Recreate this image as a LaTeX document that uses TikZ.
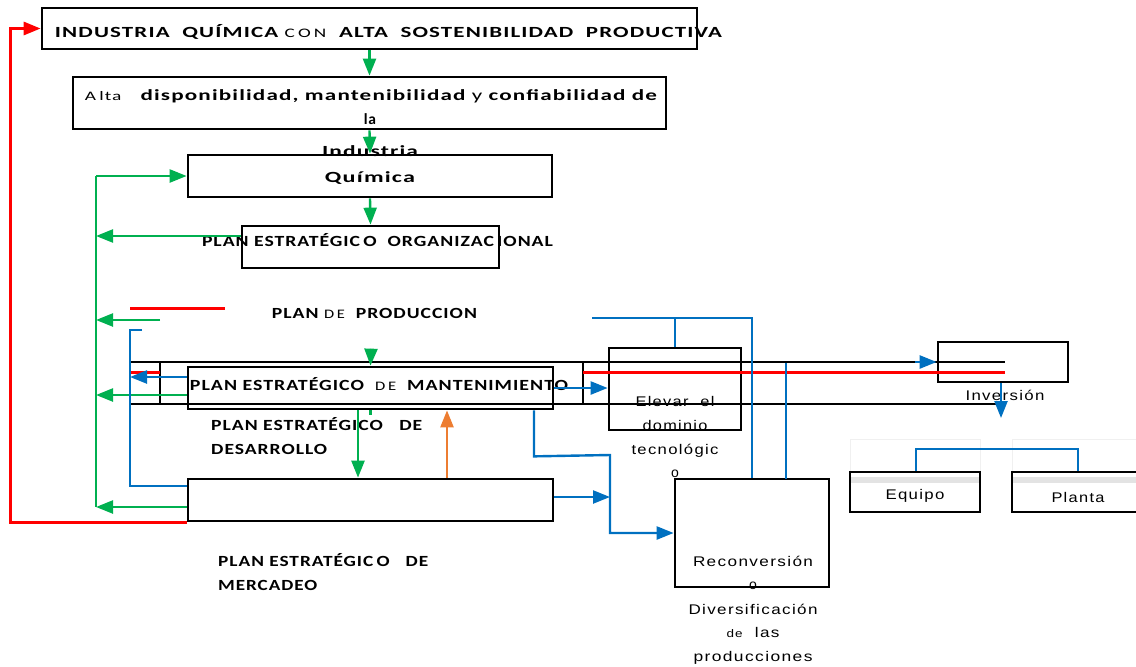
\documentclass[tikz,border=0pt]{standalone}
\usepackage{fontspec}
\usepackage{graphicx}
\setmainfont{Carlito}
\newfontfamily\arialf{Liberation Sans}
\usetikzlibrary{arrows.meta}
\definecolor{gr}{HTML}{00B050}
\definecolor{rd}{HTML}{FF0000}
\definecolor{bl}{HTML}{0070C0}
\definecolor{og}{HTML}{ED7D31}
\newcommand\fitw[2]{\resizebox{#1pt}{\height}{#2}}
\begin{document}
\begin{tikzpicture}[x=1pt,y=-1pt,
  box/.style={draw=black,line width=2.7pt,inner sep=0pt},
  bt/.style={font=\fontsize{15.5}{18}\selectfont\bfseries\addfontfeatures{LetterSpace=5},inner sep=0pt,anchor=base},
  st/.style={font=\arialf\fontsize{14}{16}\selectfont\addfontfeatures{LetterSpace=8},inner sep=0pt,anchor=base},
  arr/.style={-{Triangle[length=17pt,width=13pt]}},
  gline/.style={draw=gr,line width=2.4pt},
  bline/.style={draw=bl,line width=2.4pt},
  rline/.style={draw=rd,line width=3pt},
  kline/.style={draw=black,line width=2.8pt},
  oline/.style={draw=og,line width=2.4pt}]
\useasboundingbox (0,0) rectangle (1136,667);
\clip (0,0) rectangle (1136,667);

% ---------- texts ----------
\node[bt] (tA) at (388.5,37) {\fitw{667}{INDUSTRIA\ \ QUÍMICA\ {\mdseries\fontsize{13}{15}\selectfont C\,O\,N}\ \ ALTA\ \ SOSTENIBILIDAD\ \ PRODUCTIVA}};
\node[bt] (tB1) at (371,100) {\fitw{572}{{\mdseries\fontsize{13}{15}\selectfont A\,lta}\ \ \ disponibilidad, mantenibilidad {\mdseries y} confiabilidad de}};
\node[bt] (tB2) at (370,124) {la};
\node[bt] (tC1) at (370,156) {\fitw{96}{Industria}};
\node[bt] (tC2) at (370,182) {\fitw{90}{Química}};
\node[bt] (tD) at (377.5,246.5) {\fitw{351}{PLAN ESTRATÉGIC\,O\ \ ORGANIZAC\,IONAL}};
\node[bt] (tP) at (374.5,318.5) {\fitw{205}{PLAN {\mdseries\fontsize{13}{15}\selectfont D\,E}\ \ PRODUCCION}};
\node[bt] (tE) at (379,390.5) {\fitw{378}{PLAN ESTRATÉGICO\ \ {\mdseries\fontsize{13}{15}\selectfont D\,E}\ \ MANTENIMIENTO}};
\node[bt,anchor=base west] (tS1) at (211,430.5) {\fitw{211}{PLAN ESTRATÉGICO\ \ \ DE}};
\node[bt,anchor=base west] (tS2) at (211,454.5) {\fitw{116}{DESARROLLO}};
\node[bt,anchor=base west] (tM1) at (218,566.5) {\fitw{210}{PLAN ESTRATÉGIC\,O\ \ \ DE}};
\node[bt,anchor=base west] (tM2) at (218,590) {\fitw{99}{MERCADEO}};
\node[st] (tF1) at (675,406) {\fitw{79}{Elevar\ \ el}};
\node[st] (tF2) at (675,430) {\fitw{65}{dominio}};
\node[st] (tF3) at (675,454) {\fitw{87}{tecnológic}};
\node[st] (tF4) at (675,477) {o};
\node[st] (tI) at (1005,400.5) {\fitw{79}{Inversión}};
\node[st] (tG1) at (753,566.5) {\fitw{120}{Reconversión}};
\node[st] (tG2) at (753,589) {o};
\node[st] (tG3) at (753,614) {\fitw{129}{Diversificación}};
\node[st] (tG4) at (753,637.5) {\fitw{53}{{\fontsize{11}{13}\selectfont de}\ \ las}};
\node[st] (tG5) at (753,661.5) {\fitw{119}{producciones}};

% ---------- faint shadow boxes ----------
\draw[gray!12,line width=0.8pt] (850,439) rectangle (980,478);
\draw[gray!12,line width=0.8pt] (1012,439) rectangle (1144,478);
\fill[gray!22] (851,477) rectangle (980,483);
\fill[gray!22] (1013,477) rectangle (1144,483);

% ---------- boxes ----------
\node[box,minimum width=655pt,minimum height=41pt] (A) at (369.5,28.5) {};
\node[box,minimum width=593pt,minimum height=52pt] (B) at (369.5,103) {};
\node[box,minimum width=364pt,minimum height=42pt] (C) at (370,176) {};
\node[box,minimum width=257pt,minimum height=42pt] (D) at (370.5,247) {};
\node[box,minimum width=365pt,minimum height=42pt] (E) at (370.5,388) {};
\node[box,minimum width=365pt,minimum height=42pt] (H) at (370.5,500) {};
\node[box,minimum width=132pt,minimum height=82pt] (F) at (675,389) {};
\node[box,minimum width=154pt,minimum height=108pt] (G) at (752,533) {};
\node[box,minimum width=130pt,minimum height=40pt] (I) at (1003,362) {};
\node[box,minimum width=130pt,minimum height=40pt] (Eq) at (915,492) {};
\node[box,minimum width=132pt,minimum height=40pt] (Pl) at (1078,492) {};
\node[st] at (915,499) {\fitw{59}{Equipo}};
\node[st] at (1078,502) {\fitw{53}{Planta}};

% ---------- coordinates ----------
\coordinate (gL) at (96,0);
\coordinate (rL) at (10,0);
\coordinate (bL) at (130,0);
\coordinate (pg) at (160,320);
\coordinate (kTl) at (130,362);
\coordinate (kTr) at (1005,362);
\coordinate (kBl) at (130,404);
\coordinate (kBr) at (1005,404);
\coordinate (bx) at (610,0);

% ---------- black lines ----------
\draw[kline] (kTl) -- (kTr);
\draw[kline] (kBl) -- (kBr);
\draw[kline] (160,362) -- (160,404);
\draw[kline] (583,362) -- (583,404);

% ---------- red ----------
\draw[rline] (130,308) -- (225,308);
\draw[rline] (130,372) -- (160,372);
\draw[rline] (583,372) -- (kTr |- 0,372);
\draw[rline,arr] (H.south west) -- (rL |- H.south west) -- (rL |- A.west) -- (A.west);

% ---------- green ----------
\draw[gline,arr] (A.south) -- (B.north);
\draw[gline,arr] (B.south) -- (C.north);
\draw[gline,arr] (C.south) -- (D.north);
\draw[gline] (gL |- C.west) -- (96,507);
\draw[gline,arr] (gL |- C.west) -- (C.west);
\draw[gline,arr] ([yshift=11pt]D.west) -- (gL |- 0,236);
\draw[gline,arr] (pg) -- (gL |- pg);
\draw[gline,arr] ([yshift=-7pt]E.west) -- (gL |- 0,395);
\draw[gline,arr] ([yshift=-7pt]H.west) -- (gL |- 0,507);
\draw[gline,arr] ([xshift=-12.5pt]E.south) -- ([xshift=-12.5pt]H.north);
\draw[gline,arr] (371,349) -- (E.north);
\draw[gline] (E.south) -- ++(0,5);

% ---------- orange ----------
\draw[oline,arr] ([xshift=76.5pt]H.north) -- ([xshift=76.5pt]E.south);

% ---------- blue ----------
\draw[bline,arr] ([yshift=11pt]E.west) -- (bL |- 0,377);
\draw[bline] (142,330) -- (bL |- 0,330) -- (bL |- 0,486) -- ([yshift=14pt]H.west);
\draw[bline,arr] (E.east) -- (E.east -| F.west);
\draw[bline,arr] ([yshift=3pt]H.east) -- (bx |- 0,497);
\draw[bline,arr] ([xshift=163.5pt]E.south) -- ++(0,46) -- (bx |- 0,455) -- (bx |- G.west) -- (G.west);
\draw[bline] (592,318) -- (G.north |- 0,318) -- (G.north);
\draw[bline] (F.north |- 0,318) -- (F.north);
\draw[bline] (786,363) -- (786,479);
\draw[bline,arr] (915,362) -- (I.west);
\draw[bline,arr] ([xshift=-2pt]I.south) -- (1001,418);
\draw[bline] ([xshift=1pt]Eq.north) -- (916,449) -- (Pl.north |- 0,449) -- (Pl.north);
\end{tikzpicture}
\end{document}
